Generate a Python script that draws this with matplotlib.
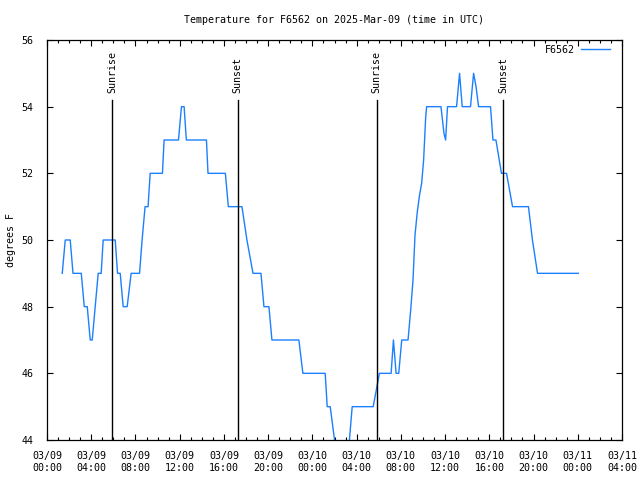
import numpy as np
import matplotlib
matplotlib.use("Agg")
from matplotlib import pyplot as plt
from matplotlib.ticker import MultipleLocator

# hours since 2025-03-09 00:00 UTC, temperature in degrees F
hours = [1.38, 1.65, 2.10, 2.35, 3.10, 3.37, 3.64, 3.91, 4.09, 4.36, 4.63, 4.90,
         5.08, 6.17, 6.38, 6.62, 6.89, 7.25, 7.61, 8.37, 8.60, 8.87, 9.14, 9.33,
         10.44, 10.59, 11.89, 12.16, 12.40, 12.60, 14.42, 14.56, 16.13, 16.40,
         17.63, 18.08, 18.63, 19.35, 19.62, 20.07, 20.34, 22.78, 23.14, 25.16,
         25.34, 25.61, 26.40, 27.10, 27.60, 29.50, 30.06, 31.12, 31.33, 31.57,
         31.81, 32.08, 32.65, 32.89, 33.10, 33.28, 33.49, 33.67, 33.88, 34.06,
         34.24, 34.33, 35.63, 35.90, 36.05, 36.10, 36.22, 37.04, 37.31, 37.55,
         38.30, 38.58, 38.80, 39.03, 40.11, 40.33, 40.60, 41.10, 41.56, 42.10,
         43.54, 43.90, 44.36, 48.05]
temps = [49, 50, 50, 49, 49, 48, 48, 47, 47, 48, 49, 49,
         50, 50, 49, 49, 48, 48, 49, 49, 50, 51, 51, 52,
         52, 53, 53, 54, 54, 53, 53, 52, 52, 51,
         51, 50, 49, 49, 48, 48, 47, 47, 46, 46,
         45, 45, 43, 43, 45, 45, 46, 46, 47, 46,
         46, 47, 47, 47.9, 48.8, 50.15, 50.85, 51.3, 51.7, 52.4,
         53.65, 54, 54, 53.2, 53, 53.3, 54, 54, 55, 54,
         54, 55, 54.6, 54, 54, 53, 53, 52, 52, 51,
         51, 50, 49, 49]

sun_hours = [5.87, 17.24, 29.80, 41.26]
sun_labels = ["Sunrise", "Sunset", "Sunrise", "Sunset"]

tick_hours = np.arange(0, 53, 4)
tick_labels = [f"03/{9 + h // 24:02d}\n{h % 24:02d}:00" for h in tick_hours]

font = "DejaVu Sans Mono"
fs = 7.2
plt.rcParams["font.family"] = font
plt.rcParams["font.size"] = fs

fig = plt.figure(figsize=(6.4, 4.8), dpi=100)
ax = fig.add_axes([47 / 640, 40 / 480, 575 / 640, 400 / 480])

ax.plot(hours, temps, color="#1a80ff", lw=1.0, label="F6562")

for h, lab in zip(sun_hours, sun_labels):
    ax.plot([h, h], [44, 54.2], color="black", lw=1.0)
    ax.text(h, 54.42, lab, rotation=90, ha="center", va="bottom", fontsize=fs)

ax.set_xlim(0, 52)
ax.set_ylim(44, 56)
ax.set_xticks(tick_hours)
ax.set_xticklabels(tick_labels)
ax.xaxis.set_minor_locator(MultipleLocator(1))
ax.set_yticks(np.arange(44, 57, 2))

ax.tick_params(axis="both", which="major", direction="in", length=4, width=0.8,
               top=True, right=True, labelsize=fs)
ax.tick_params(axis="x", which="major", pad=8)
ax.tick_params(axis="y", which="major", pad=10)
ax.tick_params(axis="x", which="minor", direction="in", length=2.2, width=0.8, top=True)
for s in ax.spines.values():
    s.set_linewidth(0.9)

ax.set_ylabel("degrees F", fontsize=fs)
ax.yaxis.set_label_coords(-31 / 575, 0.5)
ax.set_title("Temperature for F6562 on 2025-Mar-09 (time in UTC)", fontsize=fs, pad=12)

ax.legend(loc="upper right", bbox_to_anchor=(1 - 8 / 575, 1 - 1 / 400), frameon=False,
          markerfirst=False, handlelength=2.9, handletextpad=0.6, borderaxespad=0,
          fontsize=fs)

fig.savefig("out.png", dpi=100)
